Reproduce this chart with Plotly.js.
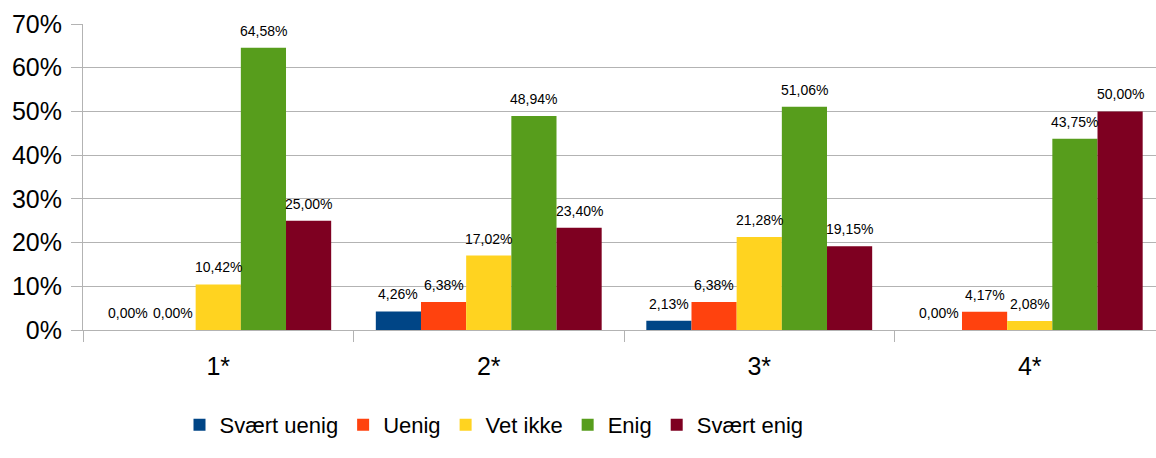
<!DOCTYPE html>
<html>
<head>
<meta charset="utf-8">
<script src="https://cdn.plot.ly/plotly-3.0.1.min.js"></script>
<style>
html, body { margin: 0; padding: 0; overflow: hidden; background: #fff; }
#chart { width: 1180px; height: 458px; }
</style>
</head>
<body>
<div id="chart"></div>
<script>
var categories = ['1*', '2*', '3*', '4*'];
var seriesNames = ['Svært uenig', 'Uenig', 'Vet ikke', 'Enig', 'Svært enig'];
var svaertUenig = [0.00, 4.26, 2.13, 0.00];
var uenig = [0.00, 6.38, 6.38, 4.17];
var vetIkke = [10.42, 17.02, 21.28, 2.08];
var enig = [64.58, 48.94, 51.06, 43.75];
var svaertEnig = [25.00, 23.40, 19.15, 50.00];
var yTickVals = [0, 10, 20, 30, 40, 50, 60, 70];

var seriesValues = [svaertUenig, uenig, vetIkke, enig, svaertEnig];
var colors = ['#004586', '#ff420e', '#ffd320', '#579d1c', '#7e0021'];

var marginL = 83, marginR = 15, plotW = 1180 - marginL - marginR;
var bargap = 0.165;
var barPx = plotW / categories.length * (1 - bargap) / seriesValues.length;

function fmt(v) { return v.toFixed(2).replace('.', ',') + '%'; }

var traces = seriesValues.map(function (vals, i) {
  return {
    type: 'bar',
    name: seriesNames[i],
    x: categories,
    y: vals,
    marker: { color: colors[i], line: { width: 0 } },
    hoverinfo: 'none'
  };
});

var annotations = [];
seriesValues.forEach(function (vals, i) {
  vals.forEach(function (v, j) {
    annotations.push({
      x: categories[j],
      y: v,
      xref: 'x',
      yref: 'y',
      text: fmt(v),
      showarrow: false,
      xanchor: 'center',
      yanchor: 'bottom',
      xshift: (i - (seriesValues.length - 1) / 2) * barPx,
      yshift: 7,
      font: { family: 'Liberation Sans, Arial, sans-serif', size: 14, color: '#000' }
    });
  });
});

var layout = {
  width: 1180,
  height: 458,
  margin: { l: marginL, r: marginR, t: 24, b: 126 },
  paper_bgcolor: '#fff',
  plot_bgcolor: '#fff',
  barmode: 'group',
  bargap: bargap,
  bargroupgap: 0,
  font: { family: 'Liberation Sans, Arial, sans-serif', color: '#000' },
  showlegend: true,
  legend: {
    orientation: 'h',
    x: (494 - marginL) / plotW,
    xanchor: 'center',
    y: -0.31,
    yanchor: 'middle',
    font: { family: 'Liberation Sans, Arial, sans-serif', size: 22, color: '#000' },
    traceorder: 'normal',
    itemclick: false
  },
  annotations: annotations,
  xaxis: {
    type: 'category',
    tickson: 'boundaries',
    ticks: 'outside',
    ticklen: 11,
    tickcolor: '#b3b3b3',
    tickwidth: 1,
    ticklabelstandoff: 14,
    showline: true,
    linecolor: '#b3b3b3',
    linewidth: 1,
    showgrid: false,
    tickfont: { size: 25, color: '#000' },
    fixedrange: true
  },
  yaxis: {
    range: [0, 70],
    tickvals: yTickVals,
    ticktext: yTickVals.map(function (v) { return v + '%'; }),
    ticks: 'outside',
    ticklen: 11,
    tickcolor: '#b3b3b3',
    tickwidth: 1,
    ticklabelstandoff: 4,
    showline: true,
    linecolor: '#b3b3b3',
    linewidth: 1,
    showgrid: true,
    gridcolor: '#b3b3b3',
    gridwidth: 1,
    zeroline: false,
    tickfont: { size: 25, color: '#000' },
    fixedrange: true
  }
};

Plotly.newPlot('chart', traces, layout, { displayModeBar: false, staticPlot: true });
</script>
</body>
</html>
